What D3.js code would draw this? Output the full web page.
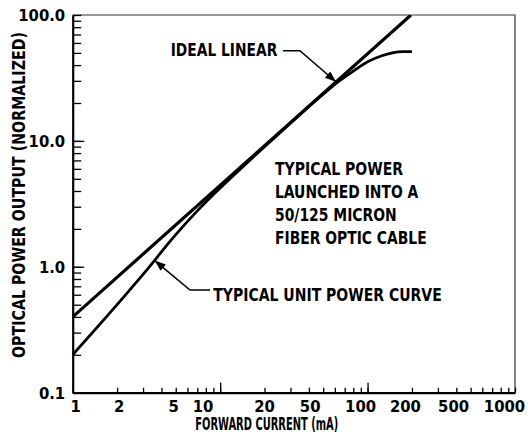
<!DOCTYPE html>
<html>
<head>
<meta charset="utf-8">
<script src="https://cdn.jsdelivr.net/npm/d3@7"></script>
<style>
  body { margin: 0; background: #fff; }
  svg { display: block; }
  text {
    font-family: "Liberation Sans Narrow", "DejaVu Sans Condensed", "Arial Narrow", sans-serif;
    font-weight: bold;
    fill: #000;
  }
</style>
</head>
<body>
<div id="chart"></div>
<script>
// ideal linear response (straight line on log-log)
const idealCurrent = [1, 197];
const idealPower = [0.4, 100];

// typical unit power curve
const typicalCurrent = [1, 2, 3, 5, 7, 10, 15, 20, 30, 50, 65, 80, 100, 125, 150, 175, 200];
const typicalPower = [0.2, 0.5, 0.87, 1.8, 2.78, 4.22, 6.6, 9.0, 13.8, 23.5, 30.2, 35.8, 42.5, 47.5, 50.3, 51.1, 51.2];

// axis labels
const xTickValues = [1, 2, 5, 10, 20, 50, 100, 200, 500, 1000];
const xTickLabels = ["1", "2", "5", "10", "20", "50", "100", "200", "500", "1000"];
const yTickValues = [0.1, 1, 10, 100];
const yTickLabels = ["0.1", "1.0", "10.0", "100.0"];

const noteLines = ["TYPICAL POWER", "LAUNCHED INTO A", "50/125 MICRON", "FIBER OPTIC CABLE"];

// the scanned labels sit a little off their ticks
const xLabelShift = [3, 2, -2, -17, 0, -13, -7, -6.5, -17, -10.5];

const margin = {top: 15, right: 13, bottom: 46.3, left: 72.7};
const width = 528 - margin.left - margin.right;
const height = 439 - margin.top - margin.bottom;

const svg = d3.select("#chart").append("svg")
    .attr("width", 528)
    .attr("height", 439)
    .append("g")
    .attr("transform", `translate(${margin.left},${margin.top})`);

// scales
const x = d3.scaleLog().domain([1, 1000]).range([0, width]);
const y = d3.scaleLog().domain([0.1, 100]).range([height, 0]);

svg.append("clipPath").attr("id", "plot-clip")
    .append("rect").attr("width", width).attr("height", height);

// thin frame top / right
svg.append("path")
    .attr("d", `M0,0H${width}V${height}`)
    .attr("fill", "none")
    .attr("stroke", "#333")
    .attr("stroke-width", 1.2);

// x axis: ticks point inward
const xMinor = svg.append("g")
    .attr("transform", `translate(0,${height})`)
    .call(d3.axisBottom(x).tickValues(x.ticks()).tickSize(-5).tickSizeOuter(0).tickFormat(""));
svg.append("g")
    .attr("transform", `translate(0,${height})`)
    .call(d3.axisBottom(x).tickValues([10, 100]).tickSize(-10).tickSizeOuter(0).tickFormat(""))
    .select(".domain").remove();
xMinor.select(".domain").attr("stroke-width", 2.2);

// y axis
const yMinor = svg.append("g")
    .call(d3.axisLeft(y).tickValues(y.ticks()).tickSize(-8.5).tickSizeOuter(0).tickFormat(""));
svg.append("g")
    .call(d3.axisLeft(y).tickValues([1, 10]).tickSize(-11.5).tickSizeOuter(0).tickFormat(""))
    .select(".domain").remove();
yMinor.select(".domain").attr("stroke-width", 2.2);

svg.selectAll(".tick line").attr("stroke", "#000").attr("stroke-width", 1.3);

// tick labels
svg.selectAll(".x-label")
    .data(xTickValues)
    .enter()
    .append("text")
    .attr("class", "x-label")
    .attr("x", (d, i) => x(d) + xLabelShift[i])
    .attr("y", height + 18.8)
    .attr("text-anchor", "middle")
    .style("font-size", "16.5px")
    .text((d, i) => xTickLabels[i]);

svg.selectAll(".y-label")
    .data(yTickValues)
    .enter()
    .append("text")
    .attr("class", "y-label")
    .attr("x", -7.5)
    .attr("y", d => y(d))
    .attr("dy", "0.36em")
    .attr("text-anchor", "end")
    .style("font-size", "16.5px")
    .text((d, i) => yTickLabels[i]);

// axis titles
svg.append("text")
    .attr("x", 266.7 - margin.left)
    .attr("y", height + 37.5)
    .attr("text-anchor", "middle")
    .attr("textLength", 143)
    .attr("lengthAdjust", "spacingAndGlyphs")
    .style("font-size", "17.5px")
    .text("FORWARD CURRENT (mA)");

svg.append("text")
    .attr("transform", `translate(${25 - margin.left},${195 - margin.top}) rotate(-90)`)
    .attr("text-anchor", "middle")
    .attr("textLength", 326)
    .attr("lengthAdjust", "spacingAndGlyphs")
    .style("font-size", "17px")
    .text("OPTICAL POWER OUTPUT (NORMALIZED)");

// curves
const straight = d3.line().x(d => x(d[0])).y(d => y(d[1]));
const smooth = d3.line().x(d => x(d[0])).y(d => y(d[1])).curve(d3.curveMonotoneX);

svg.append("path")
    .datum(d3.zip(idealCurrent, idealPower))
    .attr("clip-path", "url(#plot-clip)")
    .attr("d", straight)
    .attr("fill", "none")
    .attr("stroke", "#000")
    .attr("stroke-width", 3.2);

svg.append("path")
    .datum(d3.zip(typicalCurrent, typicalPower))
    .attr("d", smooth)
    .attr("fill", "none")
    .attr("stroke", "#000")
    .attr("stroke-width", 2.8);

// leader line with a filled arrow head
function leader(points) {
    svg.append("path")
        .attr("d", d3.line()(points))
        .attr("fill", "none")
        .attr("stroke", "#000")
        .attr("stroke-width", 1.6);
    const [tx, ty] = points[points.length - 1];
    const [fx, fy] = points[points.length - 2];
    const len = Math.hypot(tx - fx, ty - fy);
    const ux = (tx - fx) / len, uy = (ty - fy) / len;
    const L = 11, w = 4.2;
    svg.append("path")
        .attr("d", `M${tx},${ty}L${tx - L * ux - w * uy},${ty - L * uy + w * ux}L${tx - L * ux + w * uy},${ty - L * uy - w * ux}Z`)
        .attr("fill", "#000");
}

// IDEAL LINEAR note
const idealTip = [x(61), y(29.5)];
leader([[idealTip[0] - 53, idealTip[1] - 31], [idealTip[0] - 36, idealTip[1] - 31], idealTip]);
svg.append("text")
    .attr("x", idealTip[0] - 58.6)
    .attr("y", idealTip[1] - 25.8)
    .attr("text-anchor", "end")
    .attr("textLength", 106.6)
    .attr("lengthAdjust", "spacingAndGlyphs")
    .style("font-size", "17.5px")
    .text("IDEAL LINEAR");

// TYPICAL UNIT POWER CURVE note
const typicalTip = [x(3.6), y(1.12)];
leader([[typicalTip[0] + 55.3, typicalTip[1] + 29.4], [typicalTip[0] + 35.3, typicalTip[1] + 29.4], typicalTip]);
svg.append("text")
    .attr("x", typicalTip[0] + 58.6)
    .attr("y", typicalTip[1] + 39.9)
    .attr("textLength", 228.4)
    .attr("lengthAdjust", "spacingAndGlyphs")
    .style("font-size", "17.5px")
    .text("TYPICAL UNIT POWER CURVE");

// block note
const noteWidths = [128, 143.3, 121.7, 151.7];
svg.selectAll(".note")
    .data(noteLines)
    .enter()
    .append("text")
    .attr("class", "note")
    .attr("x", 275 - margin.left)
    .attr("y", (d, i) => 175 - margin.top + i * 23)
    .attr("textLength", (d, i) => noteWidths[i])
    .attr("lengthAdjust", "spacingAndGlyphs")
    .style("font-size", "17.5px")
    .text(d => d);
</script>
</body>
</html>
